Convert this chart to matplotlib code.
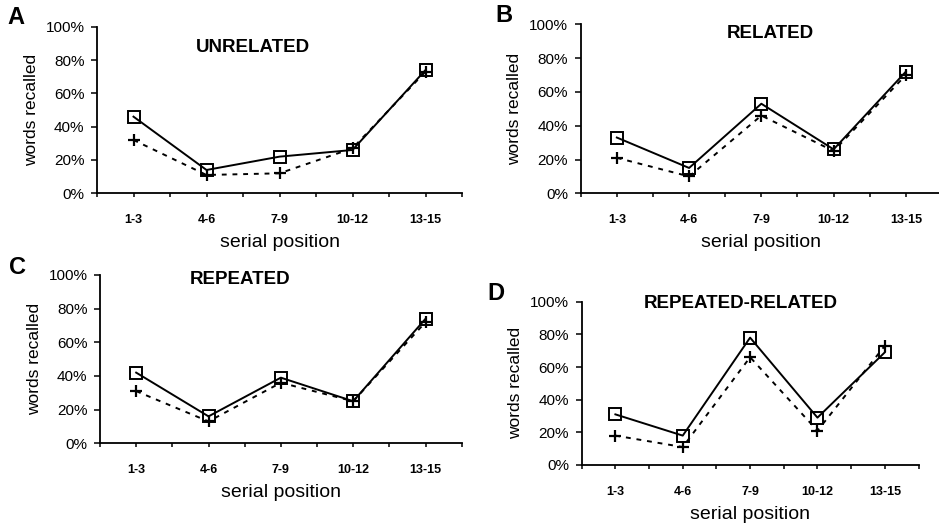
import matplotlib
matplotlib.use('Agg')
import matplotlib.pyplot as plt
from matplotlib.ticker import FixedLocator, FuncFormatter

plt.rcParams['font.family'] = ['Liberation Sans', 'DejaVu Sans']

categories = ['1-3', '4-6', '7-9', '10-12', '13-15']
y_ticks = [0, 20, 40, 60, 80, 100]

unrelated_sq = [46, 14, 22, 26, 74]
unrelated_plus = [32, 11, 12, 27, 73]
related_sq = [33, 15, 53, 26, 72]
related_plus = [21, 10, 46, 25, 70]
repeated_sq = [42, 16, 39, 25, 74]
repeated_plus = [31, 13, 36, 25, 72]
reprel_sq = [31, 18, 78, 29, 69]
reprel_plus = [18, 11, 66, 21, 73]

panel_letters = ['A', 'B', 'C', 'D']
panel_titles = ['UNRELATED', 'RELATED', 'REPEATED', 'REPEATED-RELATED']

W, H = 939, 530
fig = plt.figure(figsize=(W / 100, H / 100), dpi=100)

# pixel boxes: left, top, right, bottom
boxes = [(97, 26.7, 462, 193.3), (580.7, 24.3, 942, 193.3),
         (100, 275, 461.7, 443.3), (581.7, 301.7, 918.5, 465)]
letter_pos = [(16, 17), (504, 15), (17, 267), (496, 293)]
title_pos = [(253, 48), (770, 33), (240, 279), (741, 303)]
series = [(unrelated_sq, unrelated_plus), (related_sq, related_plus),
          (repeated_sq, repeated_plus), (reprel_sq, reprel_plus)]

x = list(range(len(categories)))

for i in range(4):
    l, t, r, b = boxes[i]
    ax = fig.add_axes([l / W, 1 - b / H, (r - l) / W, (b - t) / H])
    sq, pl = series[i]
    ax.plot(x, pl, linestyle=(0, (2.5, 3)), color='black', lw=1.4,
            marker='+', markersize=9, markeredgewidth=1.6, zorder=2)
    ax.plot(x, sq, linestyle='-', color='black', lw=1.4,
            marker='s', markersize=9, markerfacecolor='none',
            markeredgecolor='black', markeredgewidth=1.4, zorder=3)
    ax.set_xlim(-0.5, len(categories) - 0.5)
    ax.set_ylim(0, 100)
    ax.set_yticks(y_ticks)
    ax.yaxis.set_major_formatter(FuncFormatter(lambda v, p: f'{int(v)}%'))
    ax.set_xticks(x)
    ax.set_xticklabels(categories, fontsize=9, fontweight='bold')
    ax.xaxis.set_minor_locator(FixedLocator([k - 0.5 for k in range(len(categories) + 1)]))
    ax.tick_params(axis='x', which='major', direction='out', length=3, width=1.1, pad=12)
    ax.tick_params(axis='x', which='minor', direction='out', length=3, width=1.1)
    ax.tick_params(axis='y', direction='out', length=4, width=1.1, pad=5, labelsize=11)
    for s in ['top', 'right']:
        ax.spines[s].set_visible(False)
    for s in ['left', 'bottom']:
        ax.spines[s].set_linewidth(1.3)
    ax.set_xlabel('serial position', fontsize=14, labelpad=6)
    ax.set_ylabel('words recalled', fontsize=12.5, labelpad=5)
    ax.patch.set_alpha(0)
    for sp in ax.spines.values():
        sp.set_clip_on(False)

    lx, ly = letter_pos[i]
    fig.text(lx / W, 1 - ly / H, panel_letters[i], fontsize=17, fontweight='bold',
             ha='center', va='center')
    tx, ty = title_pos[i]
    fig.text(tx / W, 1 - ty / H, panel_titles[i], fontsize=13.5, fontweight='bold',
             ha='center', va='center')

fig.savefig('out.png', dpi=100)
